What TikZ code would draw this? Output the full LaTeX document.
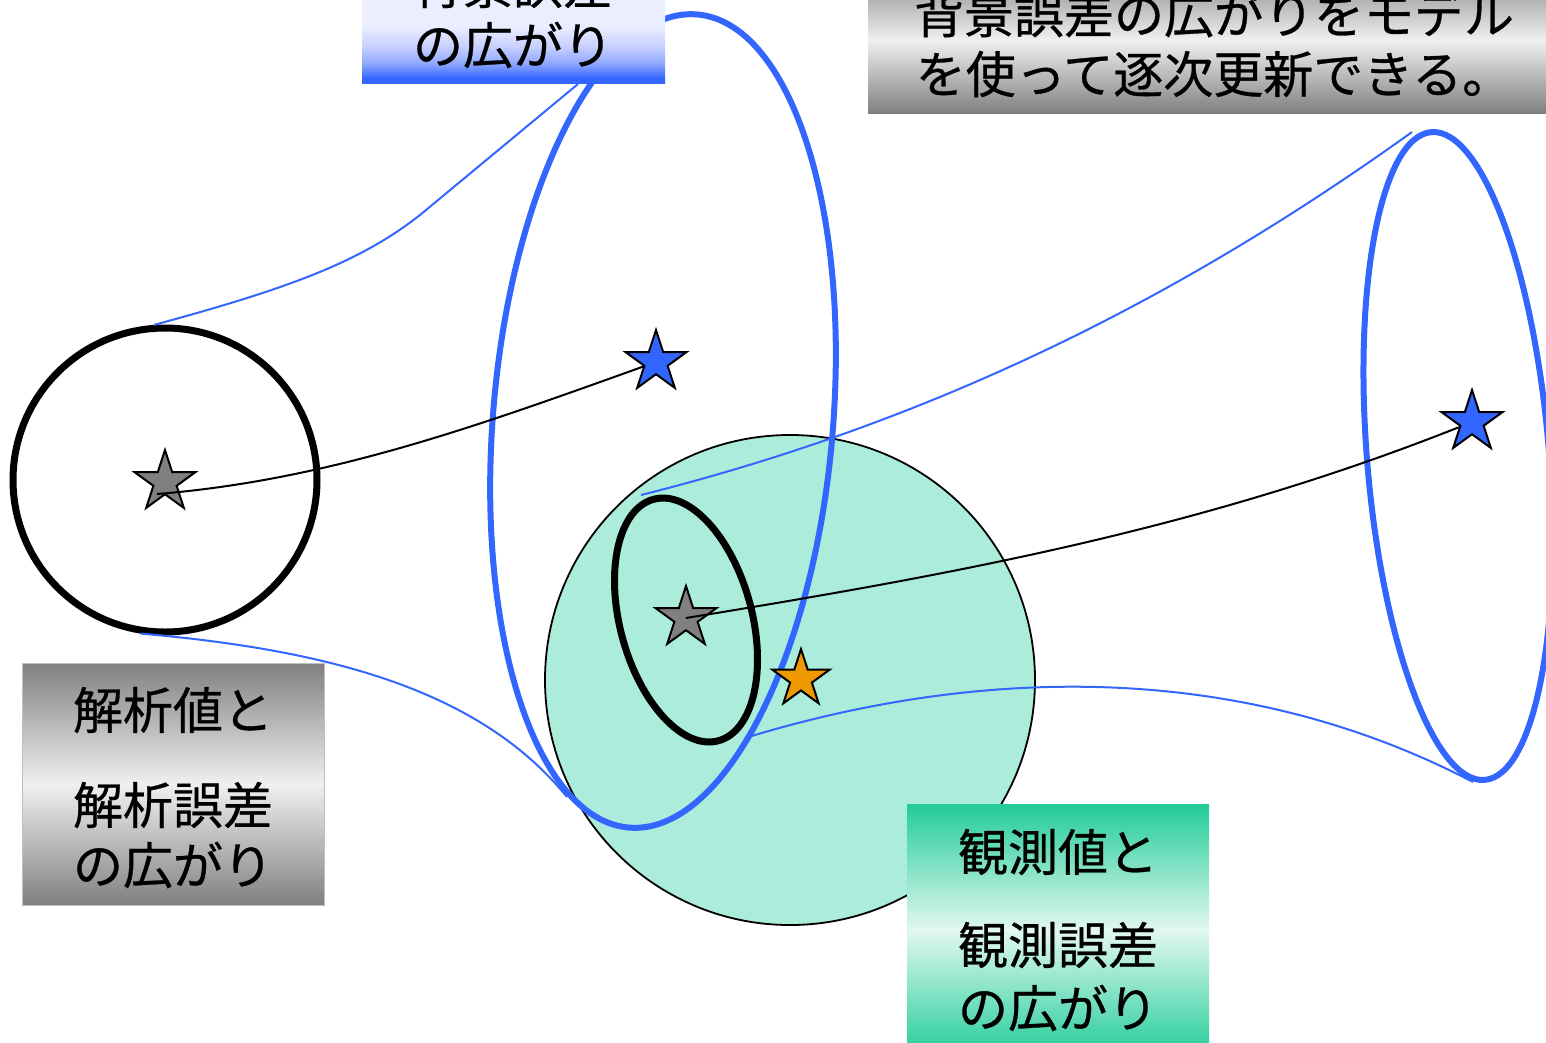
\documentclass[tikz,border=0pt]{standalone}
\usepackage{fontspec}
\newfontfamily\jp[FakeBold=0.6]{Noto Sans CJK JP}
\usetikzlibrary{shapes.geometric}
\definecolor{eblue}{RGB}{51,102,255}
\definecolor{eorange}{RGB}{238,153,0}
\definecolor{sgray}{RGB}{128,128,128}
\definecolor{mint}{RGB}{172,236,218}
\definecolor{boxgreen}{RGB}{34,204,153}
\definecolor{greenlight}{RGB}{226,248,240}
\definecolor{paleblue}{RGB}{234,238,255}
\definecolor{blueA}{RGB}{143,168,255}
\definecolor{blueB}{RGB}{200,208,255}
\definecolor{boxgray}{RGB}{128,128,128}
\definecolor{boxlight}{RGB}{240,240,240}
\pgfdeclareverticalshading{tlshade}{100bp}{color(0bp)=(eblue); color(25bp)=(eblue); color(27bp)=(eblue); color(33bp)=(blueA); color(40bp)=(blueB); color(48bp)=(paleblue); color(100bp)=(paleblue)}
\begin{document}
\begin{tikzpicture}[x=1pt,y=-1pt,
  bluethick/.style={draw=eblue, line width=6pt},
  blackthick/.style={draw=black, line width=7pt},
  thinblue/.style={draw=eblue, line width=2pt},
  trajectory/.style={draw=black, line width=2pt},
  starnode/.style={star, star points=5, star point ratio=2.62, draw=black, line width=2pt, inner sep=0pt, minimum size=#1},
  starnode/.default=64pt,
  boxnode/.style={rectangle, inner sep=0pt},
  label/.style={font=\jp\fontsize{50}{60}\selectfont, inner sep=0pt, align=center},
]
\useasboundingbox (0,0) rectangle (1546,1042);
\clip (0,0) rectangle (1546,1042);

% observation circle
\node[circle, draw=black, line width=1.8pt, fill=mint, minimum size=490pt, inner sep=0pt] (obs) at (790,680) {};

% free ends of the spread lines
\coordinate (c1) at (578,84);
\coordinate (d2) at (567,797);
\coordinate (e1) at (641,495);
\coordinate (e2) at (1412,132);
\coordinate (f1) at (745,738);
\coordinate (f2) at (1473,782);

% left analysis circle
\node[circle, blackthick, minimum size=304pt, inner sep=0pt] (lc) at (165,480) {};

% spread lines
\draw[thinblue] (lc.94) .. controls (290,288) and (360,262) .. (420,215) -- (c1);
\draw[thinblue] (lc.-99) .. controls (330,650) and (480,690) .. (d2);
\draw[thinblue] (e1) .. controls (900,430) and (1150,320) .. (e2);
\draw[thinblue] (f1) .. controls (950,675) and (1220,650) .. (f2);

% small analysis ellipse
\node[ellipse, blackthick, minimum width=132pt, minimum height=250pt, inner sep=0pt, rotate=15] (ae) at (686,620) {};
% big background ellipse
\node[ellipse, bluethick, minimum width=340pt, minimum height=816pt, inner sep=0pt, rotate=-4.8] (be) at (663,421) {};
% right background ellipse
\node[ellipse, bluethick, minimum width=182pt, minimum height=650pt, inner sep=0pt, rotate=4.7] (fe) at (1458,456) {};

% stars
\node[starnode, fill=sgray] (s0) at (165,482) {};
\node[starnode, fill=sgray] (s2) at (686,618) {};
\node[starnode, fill=eblue] (s1) at (656,362) {};
\node[starnode, fill=eblue] (s4) at (1472,422) {};
\node[starnode=60pt, fill=eorange] (s3) at (801,679) {};

% trajectories
\draw[trajectory] ([xshift=-8pt,yshift=-12pt]s0.center) .. controls (330,480) and (480,425) .. (s1);
\draw[trajectory] (s2.center) .. controls (950,575) and (1200,530) .. (s4);

% label boxes
\node[boxnode, shade, shading=tlshade, minimum width=303pt, minimum height=123pt] (b1) at (513.5,21.5) {};
\node[boxnode, top color=boxgray, bottom color=boxgray, middle color=boxlight, minimum width=682pt, minimum height=146pt] (b2) at (1209,40) {};
\node[boxnode, top color=boxgray, bottom color=boxgray, middle color=boxlight, draw=gray!50, line width=1pt, minimum width=302pt, minimum height=242pt] (b3) at (173,784) {};
\node[boxnode, top color=boxgreen, bottom color=boxgreen, middle color=greenlight, minimum width=302pt, minimum height=252pt] (b4) at (1058,930) {};

% texts
\node[label] (t1a) at (513,-15) {背景誤差};
\node[label] (t1b) at (513,45) {の広がり};
\node[label] (t2a) at (1214,14) {背景誤差の広がりをモデル};
\node[label] (t2b) at (1214,74) {を使って逐次更新できる。};
\node[label] (t3a) at (173,710) {解析値と};
\node[label] (t3b) at (173,805) {解析誤差};
\node[label] (t3c) at (173,865) {の広がり};
\node[label] (t4a) at (1058,852) {観測値と};
\node[label] (t4b) at (1058,945) {観測誤差};
\node[label] (t4c) at (1058,1008) {の広がり};
\end{tikzpicture}
\end{document}
